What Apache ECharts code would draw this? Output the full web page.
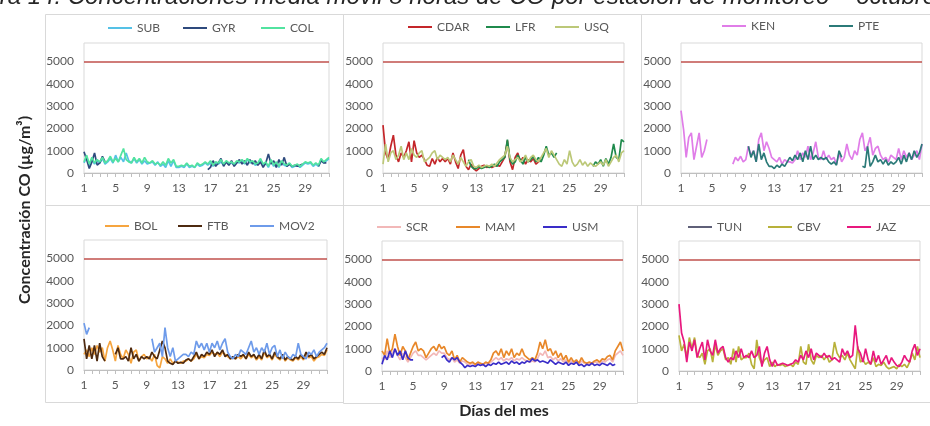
<!DOCTYPE html>
<html>
<head>
<meta charset="utf-8">
<script src="https://cdn.jsdelivr.net/npm/echarts@6/dist/echarts.min.js"></script>
<style>
html,body{margin:0;padding:0;background:#fff;}
#chart{width:930px;height:426px;}
</style>
</head>
<body>
<div id="chart"></div>
<script>
// ---- data (8-hour sampling: 3 readings per day, day 1.00 .. 32.00) ----
const N = null;
const dayLabels = ['1','5','9','13','17','21','25','29'];
const coLimit = 5000;

const SUB = [
450,700,350, 600,400,550, 450,650,400, 500,650,450, 800,500,700,
500,900,550, 450,650,450, 600,400,550, 400,450,500, 350,500,300,
400,250,550, 300,550,250, 250,300,250, 400,250,300, 250,400,300,
350,450,350, 450,300,450, 400,500,350, 500,400,450, 350,500,450,
550,400,600, 450,500,350, 400,600,350, 450,250,550, 300,450,250,
500,350,300, 400,250,300, 350,250,350, 450,400,450, 300,400,300,
600,450,550, 650];
const GYR = [
950,600,200, 500,900,350, 450,750,500, N,N,N, N,N,N,
N,N,N, N,N,N, N,N,N, N,N,N, N,N,N,
N,N,N, N,N,N, N,N,N, N,N,N, N,N,N,
N,N,150, 250,550,300, 450,650,300, 500,350,550, 300,450,600,
400,550,350, 600,400,550, 350,500,250, 450,850,400, 550,250,600,
350,700,300, 400,300,350, 300,350,400, N,N,N, N,N,300,
550,450,450, N];
const COL = [
500,800,400, 700,450,600, 500,700,450, 550,750,500, 650,500,800,
1100,600,500, 450,700,500, 650,450,700, 500,450,550, 400,450,350,
500,350,650, 450,600,300, 300,350,300, 450,300,350, 250,450,350,
400,500,400, 550,350,500, 450,600,400, 550,450,500, 400,550,500,
600,450,650, 500,550,400, 450,650,400, 500,300,600, 350,500,300,
550,400,350, 450,300,350, 400,300,400, 500,450,500, 350,450,350,
650,500,600, 700];

const CDAR = [
2150,900,600, 1200,1700,800, 500,900,700, 1000,1400,500, 1450,900,700,
800,600,350, 300,650,400, 700,500,650, 500,650,400, 900,500,200,
800,1050,300, 150,400,200, 100,200,300, 350,250,300, 250,300,350,
300,500,700, 1450,500,150, 700,900,500, 700,400,600, 500,650,400,
500,600,N, N,N,N, N,N,N, N,N,N, N,N,N,
N,N,N, N,N,N, N,N,N, N,N,N, N,N,N,
N,N,N, N];
const LFR = [
N,N,N, N,N,N, N,N,N, N,N,N, N,N,N,
N,N,N, N,N,N, N,N,N, N,N,N, N,N,N,
N,N,N, 600,300,200, 200,300,200, 250,300,250, 300,400,300,
500,600,700, 1500,600,400, 500,800,600, 400,700,500, 600,750,500,
700,500,800, 1200,800,900, 700,900,N, N,N,N, N,N,N,
N,N,N, N,N,N, 300,500,400, 600,300,650, 400,700,1300,
700,600,1500, 1400];
const USQ = [
400,1300,500, 900,1000,600, 800,1200,600, 900,600,1100, 800,700,900,
1000,500,600, 700,900,1000, 600,800,700, 600,700,500, 800,600,400,
700,500,300, 500,600,300, 250,350,250, 300,350,300, 400,300,450,
600,700,800, 1200,700,500, 600,700,500, 600,800,500, 700,800,600,
500,700,900, 1100,700,1000, 800,600,400, 300,600,400, 1000,500,300,
400,600,350, 500,300,450, 350,300,400, 500,350,600, 300,500,700,
800,500,900, 1000];

const KEN = [
2800,1950,700, 1600,1800,600, 1200,1800,700, 1000,1500,N, N,N,N,
N,N,N, N,N,400, 700,550,750, 500,600,1200, 800,1000,500,
1500,1800,1000, 1400,1100,700, 600,500,700, 400,600,500, 500,450,600,
1000,600,900, 700,1200,600, 900,1400,700, 600,1000,600, 800,600,700,
400,900,500, 700,1300,800, 600,1000,800, 1500,1800,1000, 1200,1600,800,
1100,1200,800, 600,700,500, 800,700,600, 1100,600,1000, 700,900,600,
800,1000,600, 1300];
const PTE = [
N,N,N, N,N,N, N,N,N, N,N,N, N,N,N,
N,N,N, N,N,N, N,N,N, N,N,1200, 700,1000,500,
1300,600,900, 500,300,300, 200,350,250, 400,300,500, 700,550,800,
600,900,500, 1000,600,1200, 600,800,600, 700,600,700, 500,400,500,
350,1000,700, N,N,N, N,N,N, N,300,250, 1200,300,500,
800,500,600, 400,600,350, 500,400,500, 700,400,800, 500,900,600,
1000,700,900, 1300];

const BOL = [
700,900,600, 1000,700,1100, 800,1000,400, 1000,1300,900, 400,1100,700,
500,900,700, 300,800,900, 400,600,700, 500,600,400, 700,200,100,
600,500,300, 500,300,400, 350,300,400, 400,500,400, 500,700,500,
600,550,700, 650,800,700, 750,600,800, 700,600,500, 550,500,600,
500,650,500, 700,550,650, 450,600,450, 800,550,650, 450,700,550,
450,650,400, 550,450,400, 550,450,600, 450,700,550, 600,400,550,
600,700,650, 900];
const FTB = [
1400,500,1100, 500,1100,400, 1200,600,400, N,N,N, 700,1000,500,
500,600,400, 1000,500,700, 400,600,500, 600,500,800, 600,500,900,
1300,1000,400, 300,250,400, 300,350,300, 450,500,400, 600,800,500,
700,600,800, 700,900,600, 800,700,900, 600,700,500, 600,500,700,
600,700,500, 800,600,700, 500,700,500, 900,600,700, 500,800,600,
500,700,450, 600,500,450, 600,500,700, 500,800,600, 700,500,600,
700,800,700, 1000];
const MOV2 = [
2100,1600,1900, N,N,N, N,N,N, N,N,N, N,N,N,
N,N,N, N,N,N, N,N,N, N,N,1400, 800,1000,1200,
600,1900,1000, 600,1000,400, 500,600,700, 700,600,800, 700,1300,1000,
1200,900,1200, 800,1200,1000, 1300,900,1200, 1400,800,600, 500,700,600,
900,800,700, 1000,1300,800, 1000,700,1000, 800,1200,700, 1000,1100,600,
900,500,800, 600,500,700, 600,1200,700, 600,500,800, 700,900,600,
800,900,1000, 1200];

const SCR = [
600,500,900, 600,800,1000, 700,500,800, 600,400,600, 800,900,700,
700,600,500, 600,700,800, 700,900,800, 800,600,500, 600,400,500,
350,450,400, 300,300,350, 250,350,300, 250,350,300, 400,500,600,
500,600,450, 550,500,600, 450,550,500, 600,500,450, 400,450,400,
550,800,700, 900,600,650, 500,600,450, 550,400,500, 350,450,350,
400,300,450, 350,300,350, 300,400,400, 350,450,400, 500,550,400,
700,800,900, 700];
const MAM = [
900,700,1450, 800,1000,1650, 1100,700,1100, 900,500,800, 1100,1300,900,
1000,900,600, 800,1000,1100, 900,1200,1000, 1100,800,700, 900,500,700,
400,600,500, 400,350,400, 300,400,350, 300,400,350, 500,800,900,
700,1000,600, 900,700,1000, 600,800,700, 1000,700,600, 500,600,500,
800,1300,1000, 1400,900,1000, 700,900,600, 800,500,700, 400,600,400,
500,350,600, 400,350,400, 350,450,500, 400,550,500, 650,700,500,
900,1100,1300, 900];
const USM = [
300,700,500, 900,600,1000, 700,900,500, 900,600,500, 500,N,N,
N,N,N, N,N,N, N,N,600, 700,500,400, 600,500,600,
400,300,150, 250,200,250, 200,300,250, 300,200,300, 250,350,300,
400,300,350, 400,300,450, 350,400,300, 400,350,450, 400,550,450,
500,400,450, 400,350,500, 400,300,400, 350,300,400, 250,350,300,
400,250,300, 200,300,250, 350,250,300, 250,350,300, 250,350,250,
300,N,N, N];

const TUN = [];
const CBV = [
1600,900,1200, 600,1500,1000, 1500,700,600, 800,300,900, 1000,400,1200,
700,900,1000, 500,600,300, 1000,400,1100, 500,600,600, 800,300,100,
1400,600,300, 500,600,200, 400,200,300, 250,300,200, 250,300,200,
400,300,1100, 400,300,1200, 500,300,700, 600,700,500, 700,400,500,
1300,800,600, 700,500,800, 500,300,100, 1100,400,500, 300,400,300,
600,200,300, 250,400,200, 100,150,200, 100,300,200, 300,150,400,
800,500,1100, 600];
const JAZ = [
3000,1700,1300, 400,1300,900, 1400,600,1000, 1300,500,1400, 900,700,1400,
800,1000,1100, 600,400,600, 500,900,600, 1000,600,700, 600,900,600,
700,1100,200, 800,1100,500, 200,500,250, 300,350,300, 250,300,350,
500,400,700, 500,900,600, 1000,500,800, 700,600,800, 600,700,500,
600,500,400, 1000,700,900, 600,700,2050, 1000,800,400, 1000,500,300,
900,400,700, 300,500,700, 300,600,400, 250,200,400, 700,500,400,
900,1200,700, 1000];

// ---- layout / style ----
const seriesData = {SUB,GYR,COL,CDAR,LFR,USQ,KEN,PTE,BOL,FTB,MOV2,SCR,MAM,USM,TUN,CBV,JAZ};
const colors = {
  SUB:'#55C1E6', GYR:'#2E4A7D', COL:'#52E3A0',
  CDAR:'#C4262A', LFR:'#1F8A4C', USQ:'#BCC878',
  KEN:'#E07DE8', PTE:'#2B7A78',
  BOL:'#F6A53F', FTB:'#4E2A10', MOV2:'#6E9BEA',
  SCR:'#F2B8B8', MAM:'#E8882A', USM:'#3A2DC8',
  TUN:'#5F6078', CBV:'#B8B13A', JAZ:'#E8187E'
};
const panels = [
  {names:['SUB','GYR','COL'], grid:{left:84, top:43, width:245, height:130}, lx:[108,183,261], ly:28, box:[45,14,298,191], limitOn:'SUB'},
  {names:['CDAR','LFR','USQ'], grid:{left:383, top:43, width:241, height:130}, lx:[408,486,555], ly:27, box:[343,14,298,191], limitOn:'CDAR'},
  {names:['KEN','PTE'], grid:{left:681, top:43, width:241, height:130}, lx:[722,829], ly:26, box:[641,14,300,191], limitOn:'KEN'},
  {names:['BOL','FTB','MOV2'], grid:{left:84, top:240, width:243, height:130}, lx:[105,178,250], ly:226, box:[45,205,298,197], limitOn:'BOL'},
  {names:['SCR','MAM','USM'], grid:{left:382, top:241, width:241, height:130}, lx:[377,456,543], ly:227, box:[343,205,294,198], limitOn:'SCR'},
  {names:['TUN','CBV','JAZ'], grid:{left:679, top:241, width:241, height:130}, lx:[688,768,847], ly:227, box:[637,205,300,197], limitOn:'CBV'}
];
const FONT = 'Lato, "Open Sans", sans-serif';
const timeAxis = [];
for (let i = 0; i < 94; i++) timeAxis.push(String(+(1 + i / 3).toFixed(2)));

const grids = [], xAxes = [], yAxes = [], series = [], legends = [], graphics = [];
panels.forEach((p, gi) => {
  grids.push(Object.assign({show:true, borderColor:'#D9D9D9', borderWidth:1, backgroundColor:'#fff'}, p.grid));
  xAxes.push({
    type:'category', gridIndex:gi, data:timeAxis, boundaryGap:false,
    axisLine:{show:true, lineStyle:{color:'#BFBFBF', width:1}},
    axisTick:{show:true, interval:2, length:4, lineStyle:{color:'#BFBFBF'}},
    axisLabel:{interval:11, margin:9, color:'#595959', fontSize:12, fontFamily:FONT,
      formatter: v => dayLabels.includes(v) ? v : ''},
    splitLine:{show:false}
  });
  yAxes.push({
    type:'value', gridIndex:gi, min:0, max:5830, interval:1000,
    axisLine:{show:false}, axisTick:{show:false}, splitLine:{show:false},
    axisLabel:{margin:10, color:'#595959', fontSize:12, fontFamily:FONT,
      formatter: v => (v % 1000 === 0 ? String(v) : '')}
  });
  p.names.forEach((nm, k) => {
    const s = {
      name:nm, type:'line', xAxisIndex:gi, yAxisIndex:gi, data:seriesData[nm],
      showSymbol:false, symbol:'none', connectNulls:false, animation:false,
      color:colors[nm], lineStyle:{color:colors[nm], width:1.7}
    };
    if (nm === p.limitOn) {
      s.markLine = {silent:true, symbol:'none', label:{show:false}, animation:false,
        lineStyle:{color:'#C0504D', width:1.5, type:'solid'}, data:[{yAxis:coLimit}]};
    }
    series.push(s);
    legends.push({
      data:[nm], left:p.lx[k], top:p.ly - 7, icon:'rect', itemWidth:24, itemHeight:2,
      selectedMode:false, padding:0,
      textStyle:{color:'#595959', fontSize:12, fontFamily:FONT, lineHeight:14}
    });
  });
  graphics.push({type:'rect', shape:{x:p.box[0]+0.5, y:p.box[1]+0.5, width:p.box[2], height:p.box[3]},
    style:{fill:'none', stroke:'#D9D9D9', lineWidth:1}, z:-1});
});

graphics.push({type:'text', x:-47, y:-3, style:{
  text:'Figura 14. Concentraciones media móvil 8 horas de CO por estación de monitoreo – octubre',
  font:'italic 24px "Liberation Sans", Arial, sans-serif', fill:'#262626', textAlign:'left', textVerticalAlign:'middle'}});
graphics.push({type:'text', x:25, y:210, rotation:Math.PI/2, style:{
  text:'Concentración CO (µg/m³)', font:'bold 16px ' + FONT, fill:'#262626',
  textAlign:'center', textVerticalAlign:'middle'}});
graphics.push({type:'text', x:504, y:411, style:{
  text:'Días del mes', font:'bold 16px ' + FONT, fill:'#262626',
  textAlign:'center', textVerticalAlign:'middle'}});

const chart = echarts.init(document.getElementById('chart'), null, {renderer:'canvas'});
chart.setOption({
  animation:false,
  backgroundColor:'#fff',
  grid:grids, xAxis:xAxes, yAxis:yAxes, series:series, legend:legends, graphic:graphics
});
</script>
</body>
</html>
